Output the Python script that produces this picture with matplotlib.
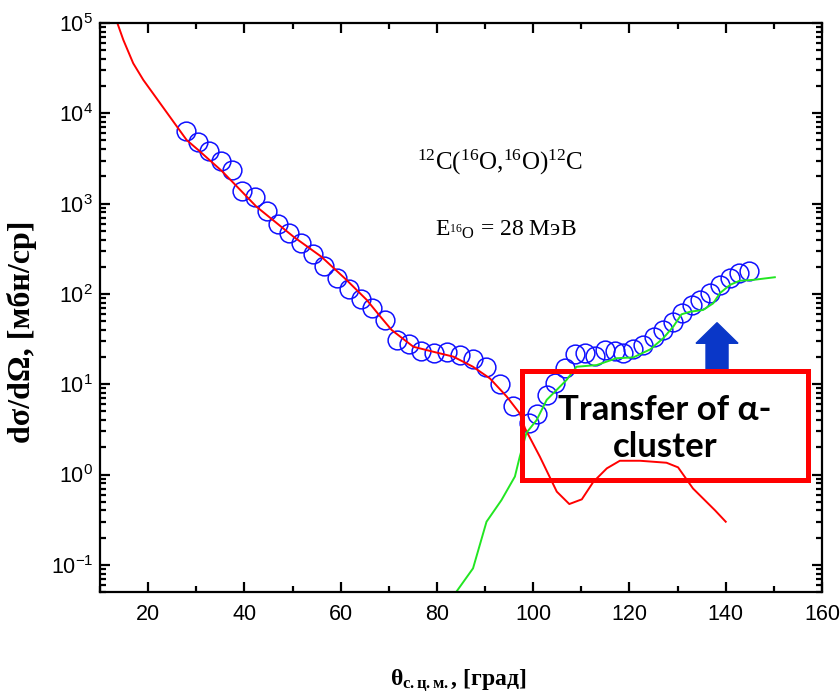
import matplotlib
matplotlib.use("Agg")
import matplotlib.pyplot as plt
from matplotlib.ticker import MultipleLocator, LogLocator, NullFormatter
from matplotlib.patches import Rectangle, FancyArrow

plt.rcParams['font.family'] = ['Liberation Sans', 'DejaVu Sans']
plt.rcParams['mathtext.fontset'] = 'custom'
plt.rcParams['mathtext.rm'] = 'Liberation Serif'
plt.rcParams['mathtext.it'] = 'Liberation Serif:italic'
plt.rcParams['mathtext.bf'] = 'Liberation Serif:bold'
plt.rcParams['axes.unicode_minus'] = False

# experimental points, 12C(16O,16O)12C at 28 MeV
theta_exp = [27.9, 30.3, 32.7, 35.1, 37.4, 39.6, 42.2, 44.6, 47.0, 49.3, 51.8, 54.2,
             56.6, 59.2, 61.7, 64.2, 66.6, 69.2, 71.8, 74.2, 76.6, 79.4, 82.0, 84.8,
             87.4, 90.2, 93.1, 95.8, 99.2, 100.8, 102.8, 104.5, 106.6, 108.7, 110.7,
             112.8, 114.9, 117.0, 118.7, 120.8, 122.9, 125.1, 126.9, 129.0, 131.0,
             132.9, 134.6, 136.7, 138.8, 140.9, 142.8, 144.8]
sigma_exp = [6410, 4850, 3830, 2960, 2350, 1390, 1190, 828, 594, 469, 369, 277,
             205, 149, 112, 87, 69, 51, 31, 27.9, 23.5, 22.3, 22.9, 21.0,
             19.0, 15.4, 10.0, 5.74, 3.69, 4.68, 7.59, 10.2, 15.0, 21.6, 22.0,
             20.5, 23.9, 23.5, 22.0, 24.3, 27.2, 33.0, 39.8, 49.2, 62,
             75, 85.5, 102, 126, 149, 169, 179]

# potential scattering (red)
theta_pot = [13.6, 14.85, 16.9, 19.0, 22.5, 25.5, 28.0, 30.4, 35.3, 37.7, 42.5, 50.2,
             56.0, 61.2, 65.4, 68.2, 70.6, 75.1, 79.2, 83.4, 87.5, 91.0, 94.5, 97.2,
             98.3, 101.4, 104.9, 107.5, 110.1, 112.5, 115.3, 118.0, 122.2, 127.7,
             130.1, 133.2, 137.8, 140.0]
sigma_pot = [1e5, 64900, 35800, 23400, 12900, 7740, 5060, 3930, 2300, 1700, 925, 430,
             258, 143, 86, 56.5, 39.8, 26, 22.9, 20.2, 15.6, 11.6, 7.3, 4.76,
             3.24, 1.57, 0.646, 0.471, 0.531, 0.83, 1.17, 1.42, 1.42, 1.35,
             1.20, 0.70, 0.40, 0.30]

# alpha-cluster transfer (green)
theta_tr = [84.0, 87.5, 90.3, 93.4, 96.2, 97.2, 98.6, 100.7, 102.8, 106.9, 109.0,
            113.2, 117.3, 120.8, 124.3, 127.0, 129.1, 130.8, 132.6, 135.3, 137.4,
            138.8, 140.9, 142.9, 145.7, 150.2]
sigma_tr = [0.05, 0.0914, 0.30, 0.52, 0.95, 1.57, 2.9, 4.0, 6.7, 11.1, 15.6,
            16.3, 19.4, 19.8, 24.3, 32.2, 43.4, 59.4, 63.5, 66.4, 78.7,
            102, 126, 140, 143, 153]

fig = plt.figure(figsize=(8.4, 7), dpi=100)
ax = fig.add_axes([100/840, 1-592/700, 722/840, 569/700])

ax.plot(theta_exp, sigma_exp, 'o', ms=13.5, mfc='none', mec='#1010ff', mew=1.1)
ax.plot(theta_pot, sigma_pot, color='#ff0000', lw=1.4)
ax.plot(theta_tr, sigma_tr, color='#22e622', lw=1.4)

ax.set_yscale('log')
ax.set_xlim(10, 160)
ax.set_ylim(0.05, 1e5)
ax.xaxis.set_major_locator(MultipleLocator(20))
ax.xaxis.set_minor_locator(MultipleLocator(10))
ax.yaxis.set_major_locator(LogLocator(base=10, numticks=20))
ax.yaxis.set_minor_locator(LogLocator(base=10, subs=range(2, 10), numticks=20))
ax.yaxis.set_minor_formatter(NullFormatter())

for s in ax.spines.values():
    s.set_linewidth(1.6)
ax.tick_params(which='both', direction='in', top=True, right=True, width=1.6,
               labelsize=15.5)
ax.tick_params(which='major', length=7)
ax.tick_params(which='minor', length=4)
ax.tick_params(axis='x', pad=9)
ax.tick_params(axis='y', pad=5)

ax.text(0.554, 0.7417, '$^{12}$C($^{16}$O,$^{16}$O)$^{12}$C', transform=ax.transAxes,
        family='Liberation Serif', fontsize=18, ha='center', va='baseline')
ax.text(0.562, 0.6257, 'E$_{^{16}\\mathrm{O}}$ = 28 МэВ', transform=ax.transAxes,
        family='Liberation Serif', fontsize=17, ha='center', va='baseline')

ax.add_patch(Rectangle((0.585, 0.197), 0.395, 0.191, transform=ax.transAxes,
                       fill=False, ec='#ff0000', lw=3.6, zorder=4))
ax.add_patch(FancyArrow(0.8546, 0.385, 0, 0.0883, width=0.0305, head_width=0.0582,
                        head_length=0.0362, length_includes_head=True,
                        transform=ax.transAxes, color='#0a37c8', zorder=3))
ax.text(0.7825, 0.288, 'Transfer of α-\ncluster', transform=ax.transAxes,
        family='Lato', weight='bold', fontsize=25, ha='center', va='center',
        linespacing=1.2, zorder=5)

fig.text(22/840, 1-332/700, 'dσ/dΩ, [мбн/ср]', rotation=90, family='Liberation Serif',
         weight='bold', fontsize=23, ha='center', va='center')
fig.text(458/840, 1-686/700, 'θ$_{\\mathbf{с.ц.м.}}$, [град]', family='Liberation Serif',
         weight='bold', fontsize=17, ha='center', va='baseline')

fig.savefig('out.png', dpi=100)
